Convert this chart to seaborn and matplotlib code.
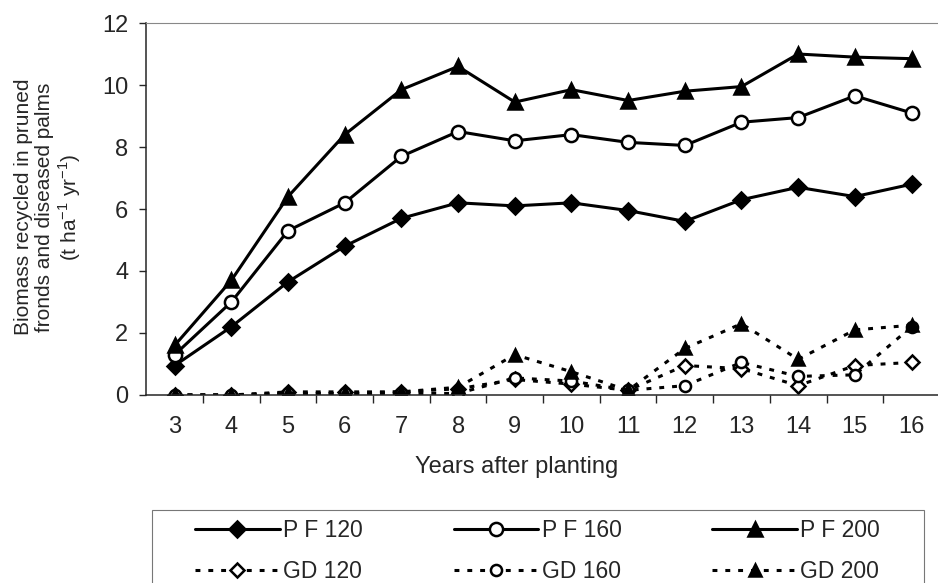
import numpy as np
import pandas as pd
import matplotlib
matplotlib.use("Agg")
import matplotlib.pyplot as plt
from matplotlib.patches import Rectangle
import seaborn as sns

# Data
years = [3, 4, 5, 6, 7, 8, 9, 10, 11, 12, 13, 14, 15, 16]
pf120 = [0.95, 2.2, 3.65, 4.8, 5.7, 6.2, 6.1, 6.2, 5.95, 5.6, 6.3, 6.7, 6.4, 6.8]
pf160 = [1.3, 3.0, 5.3, 6.2, 7.7, 8.5, 8.2, 8.4, 8.15, 8.05, 8.8, 8.95, 9.65, 9.1]
pf200 = [1.6, 3.7, 6.4, 8.4, 9.85, 10.6, 9.45, 9.85, 9.5, 9.8, 9.95, 11.0, 10.9, 10.85]
gd120 = [0.0, 0.0, 0.1, 0.1, 0.1, 0.2, 0.5, 0.35, 0.15, 0.95, 0.85, 0.3, 0.95, 1.05]
gd160 = [0.0, 0.0, 0.05, 0.05, 0.05, 0.05, 0.55, 0.45, 0.15, 0.3, 1.05, 0.6, 0.65, 2.2]
gd200 = [0.0, 0.0, 0.05, 0.05, 0.1, 0.25, 1.3, 0.75, 0.15, 1.5, 2.3, 1.15, 2.1, 2.25]

df = pd.DataFrame({"year": years, "PF120": pf120, "PF160": pf160, "PF200": pf200,
                   "GD120": gd120, "GD160": gd160, "GD200": gd200})

sns.set_style("ticks")
plt.rcParams["font.family"] = ["Liberation Sans", "DejaVu Sans"]

fig = plt.figure(figsize=(9.38, 5.83), dpi=100)
ax = fig.add_axes([0.156, 0.3225, 0.846, 0.638])

dash = (0, (1.6, 2.6))
series = [
    ("PF120", "P F 120", "-", "D", "black", 8.5),
    ("GD120", "GD 120", dash, "D", "white", 7),
    ("PF160", "P F 160", "-", "o", "white", 9.5),
    ("GD160", "GD 160", dash, "o", "white", 8),
    ("PF200", "P F 200", "-", "^", "black", 10.5),
    ("GD200", "GD 200", dash, "^", "black", 9),
]

handles = []
for col, lab, ls, mk, fc, ms in series:
    sns.lineplot(data=df, x="year", y=col, ax=ax, color="black", linestyle=ls,
                 linewidth=2.2, marker=mk, markersize=ms, markerfacecolor=fc,
                 markeredgecolor="black", markeredgewidth=1.8, label=lab, legend=False)
    handles.append(ax.lines[-1])

ax.set_xlim(2.5, 16.5)
ax.set_ylim(0, 12)
ax.set_xticks(years)
ax.set_xticks(np.arange(3.5, 16.5, 1), minor=True)
ax.tick_params(axis="x", which="major", length=0, pad=15, labelsize=17)
ax.tick_params(axis="x", which="minor", length=6, width=1, direction="out")
ax.set_yticks(range(0, 13, 2))
ax.tick_params(axis="y", length=5, width=1, pad=8, labelsize=17)

for s in ["left", "bottom"]:
    ax.spines[s].set_linewidth(1.1)
ax.spines["top"].set_color("#888888")
ax.spines["top"].set_linewidth(0.8)
ax.spines["right"].set_visible(False)

ax.set_xlabel("Years after planting", fontsize=17)
ax.xaxis.set_label_coords(0.467, -0.165)
ax.set_ylabel("Biomass recycled in pruned\nfronds and diseased palms\n(t ha$^{\\mathregular{-1}}$ yr$^{\\mathregular{-1}}$)",
              fontsize=15, linespacing=1.12)
ax.yaxis.set_label_coords(-0.08, 0.505)

# legend box (open at the bottom, as in the original)
fig.patches.append(Rectangle((152 / 938, -0.05), (924 - 152) / 938, 0.05 + 73 / 583,
                             transform=fig.transFigure, fill=False,
                             edgecolor="#777777", linewidth=0.8))
leg = fig.legend(handles=handles, labels=[h.get_label() for h in handles],
                 ncol=3, loc="upper left", bbox_to_anchor=(195 / 938, 1 - 519 / 583),
                 fontsize=16.5, handlelength=3.7, handletextpad=0.15,
                 columnspacing=3.95, labelspacing=0.8, frameon=False,
                 borderpad=0, borderaxespad=0)

fig.savefig("out.png", dpi=100)
